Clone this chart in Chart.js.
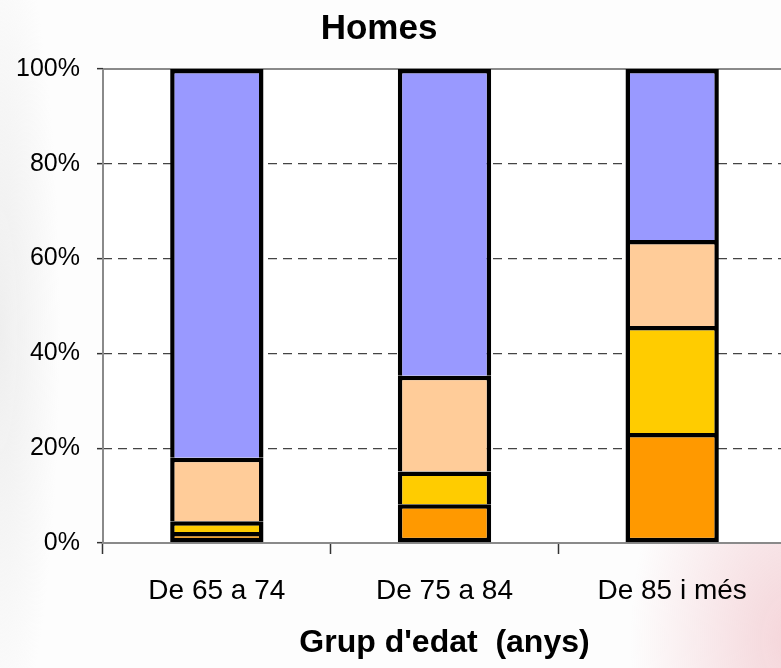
<!DOCTYPE html>
<html>
<head>
<meta charset="utf-8">
<script src="https://cdn.jsdelivr.net/npm/chart.js@4/dist/chart.umd.min.js"></script>
<style>
  html, body { margin: 0; padding: 0; width: 781px; height: 668px; overflow: hidden; }
  body {
    background:
      radial-gradient(ellipse 160px 260px at 790px 640px, rgba(225,120,135,0.30), rgba(255,255,255,0) 100%),
      radial-gradient(ellipse 60px 420px at 0px 330px, rgba(210,210,210,0.35), rgba(255,255,255,0) 100%),
      #fdfdfd;
  }
  #wrap { position: absolute; left: 0; top: 0; width: 800px; height: 668px; }
</style>
</head>
<body>
<div id="wrap"><canvas id="chart" width="800" height="668"></canvas></div>
<script>
// grups d'edat
const categories = ["De 65 a 74", "De 75 a 84", "De 85 i més"];
// percentatges llegits del gràfic (de baix a dalt)
const serieTaronja = [2.3, 8.2, 23.2];
const serieGroc = [2.3, 6.9, 22.6];
const serieSalmo = [13.4, 20.2, 18.1];
const serieBlau = [82.0, 64.7, 36.1];
const yTicks = [0, 20, 40, 60, 80, 100];

const FONT = "'Liberation Sans', Arial, sans-serif";

// fons blanc, eixos i línia superior de l'àrea, títol
const frame = {
  id: "frame",
  beforeDraw(chart) {
    const { ctx, chartArea: a } = chart;
    ctx.save();
    ctx.fillStyle = "#ffffff";
    ctx.fillRect(a.left, a.top, a.right - a.left, a.bottom - a.top);
    ctx.restore();
  },
  beforeDatasetsDraw(chart) {
    const { ctx, chartArea: a } = chart;
    ctx.save();
    ctx.strokeStyle = "#8a8a8a";
    ctx.lineWidth = 2;
    ctx.setLineDash([]);
    ctx.beginPath();
    ctx.moveTo(a.left, a.top);
    ctx.lineTo(a.right, a.top);
    ctx.moveTo(a.left, a.top);
    ctx.lineTo(a.left, a.bottom);
    ctx.lineTo(a.right, a.bottom);
    ctx.stroke();
    ctx.restore();
  },
  afterDraw(chart) {
    const { ctx } = chart;
    ctx.save();
    ctx.fillStyle = "#000";
    ctx.font = "bold 35px " + FONT;
    ctx.textAlign = "center";
    ctx.textBaseline = "middle";
    ctx.fillText("Homes", 379, 29);
    ctx.restore();
  },
};

function serie(label, data, color, first) {
  return {
    label,
    data,
    backgroundColor: color,
    borderColor: "#000",
    borderWidth: 4.5,
    borderSkipped: first ? false : "start",
    barPercentage: 0.41,
    categoryPercentage: 1,
  };
}

new Chart(document.getElementById("chart"), {
  type: "bar",
  data: {
    labels: categories,
    datasets: [
      serie("Sèrie 1", serieTaronja, "#ff9900", true),
      serie("Sèrie 2", serieGroc, "#ffcc00"),
      serie("Sèrie 3", serieSalmo, "#ffcc99"),
      serie("Sèrie 4", serieBlau, "#9999ff"),
    ],
  },
  options: {
    responsive: false,
    animation: false,
    layout: { padding: { top: 69, right: 14, bottom: 0, left: 0 } },
    plugins: { legend: { display: false }, tooltip: { enabled: false } },
    scales: {
      x: {
        stacked: true,
        afterFit: (s) => { s.height = 125; },
        border: { display: false },
        grid: { offset: true, drawOnChartArea: false, tickLength: 11, tickColor: "#333", tickWidth: 1.5 },
        ticks: { color: "#000", font: { family: FONT, size: 28 }, padding: 20 },
        title: {
          display: true,
          text: "Grup d'edat  (anys)",
          color: "#000",
          font: { family: FONT, size: 32, weight: "bold" },
          padding: { top: 0, bottom: 6 },
        },
      },
      y: {
        stacked: true,
        min: 0,
        max: 100,
        afterFit: (s) => { s.width = 103; },
        afterBuildTicks: (s) => { s.ticks = yTicks.map((v) => ({ value: v })); },
        border: { display: false, dash: [9, 6] },
        grid: {
          color: (c) => (c.tick && (c.tick.value === 0 || c.tick.value === 100) ? "rgba(0,0,0,0)" : "#444"),
          lineWidth: 1.3,
          tickLength: 6,
          tickColor: "#333",
          tickWidth: 1.5,
          tickBorderDash: [],
        },
        ticks: {
          color: "#000",
          font: { family: FONT, size: 25 },
          padding: 17,
          callback: (v) => v + "%",
        },
      },
    },
  },
  plugins: [frame],
});
</script>
</body>
</html>
